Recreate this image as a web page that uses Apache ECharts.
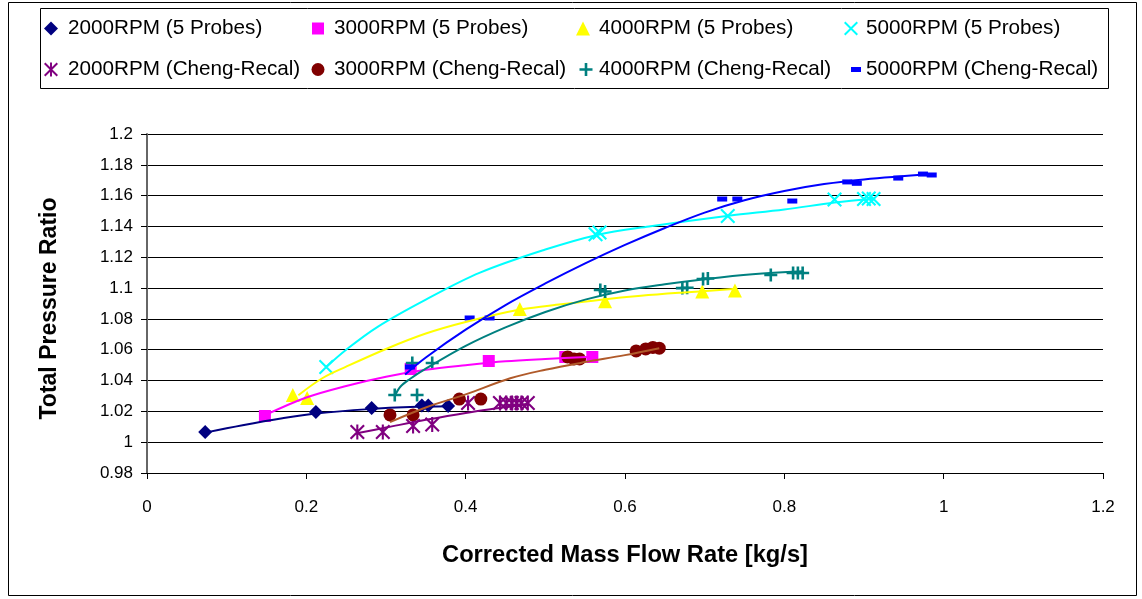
<!DOCTYPE html>
<html>
<head>
<meta charset="utf-8">
<script src="https://cdn.jsdelivr.net/npm/echarts@6/dist/echarts.min.js"></script>
<style>
  html, body { margin: 0; padding: 0; background: #fff; }
  #chart { width: 1142px; height: 599px; }
</style>
</head>
<body>
<div id="chart"></div>
<script>
// Measured points: [corrected mass flow (kg/s), total pressure ratio]
const rpm2000Probe = [[0.073,1.0066],[0.212,1.0196],[0.282,1.0222],[0.345,1.0238],[0.353,1.0238],[0.378,1.0235]];
const rpm3000Probe = [[0.148,1.017],[0.331,1.0475],[0.429,1.0527],[0.525,1.0553],[0.559,1.0553]];
const rpm4000Probe = [[0.183,1.0306],[0.201,1.0287],[0.468,1.0864],[0.575,1.0915],[0.697,1.0978],[0.738,1.0985]];
const rpm5000Probe = [[0.225,1.0488],[0.563,1.135],[0.568,1.136],[0.729,1.1468],[0.863,1.1575],[0.9,1.1578],[0.906,1.1582],[0.912,1.1578]];
const rpm2000Cheng = [[0.264,1.0066],[0.296,1.0066],[0.334,1.0105],[0.358,1.0115],[0.403,1.0254],[0.443,1.0254],[0.451,1.0254],[0.458,1.0254],[0.464,1.0254],[0.47,1.0254],[0.478,1.0254]];
const rpm3000Cheng = [[0.305,1.0177],[0.334,1.0177],[0.392,1.028],[0.419,1.028],[0.528,1.0553],[0.536,1.054],[0.543,1.054],[0.614,1.0592],[0.626,1.0605],[0.635,1.0615],[0.643,1.061]];
const rpm4000Cheng = [[0.311,1.0306],[0.339,1.0306],[0.333,1.0514],[0.358,1.0514],[0.569,1.0988],[0.575,1.0978],[0.672,1.1],[0.678,1.1002],[0.698,1.1059],[0.704,1.1062],[0.783,1.1085],[0.811,1.1098],[0.817,1.1098],[0.823,1.1098]];
const rpm5000Cheng = [[0.33,1.0488],[0.405,1.0806],[0.43,1.0806],[0.722,1.1578],[0.741,1.1578],[0.81,1.1565],[0.879,1.1689],[0.891,1.168],[0.943,1.1714],[0.974,1.174],[0.985,1.1734]];

// Trend curves through each speed line
const fit2000Probe = [[0.073,1.0062],[0.12,1.011],[0.17,1.0155],[0.215,1.0188],[0.28,1.0215],[0.33,1.0228],[0.38,1.0233]];
const fit3000Probe = [[0.148,1.0175],[0.2,1.029],[0.25,1.0365],[0.3,1.0425],[0.35,1.047],[0.4,1.05],[0.45,1.0525],[0.5,1.054],[0.56,1.0555]];
const fit4000Probe = [[0.19,1.0305],[0.22,1.0415],[0.25,1.049],[0.3,1.0605],[0.35,1.0705],[0.4,1.078],[0.47,1.0862],[0.52,1.0895],[0.57,1.0925],[0.62,1.095],[0.67,1.097],[0.74,1.0995]];
const fit5000Probe = [[0.225,1.0488],[0.25,1.06],[0.29,1.075],[0.35,1.0925],[0.418,1.11],[0.5,1.125],[0.565,1.1345],[0.63,1.14],[0.73,1.147],[0.8,1.151],[0.863,1.1555],[0.912,1.158]];
const fit2000Cheng = [[0.265,1.006],[0.3,1.0095],[0.35,1.0145],[0.4,1.019],[0.45,1.0228],[0.478,1.025]];
const fit3000Cheng = [[0.305,1.013],[0.35,1.0225],[0.4,1.031],[0.456,1.0415],[0.5,1.047],[0.55,1.052],[0.6,1.0565],[0.643,1.061]];
const fit4000Cheng = [[0.311,1.03],[0.318,1.036],[0.33,1.041],[0.351,1.048],[0.4,1.0625],[0.45,1.0745],[0.5,1.0845],[0.55,1.0925],[0.6,1.0985],[0.65,1.1025],[0.7,1.1058],[0.76,1.109],[0.823,1.111]];
const fit5000Cheng = [[0.324,1.044],[0.35,1.055],[0.4,1.073],[0.45,1.089],[0.5,1.103],[0.55,1.116],[0.6,1.128],[0.65,1.139],[0.7,1.149],[0.75,1.157],[0.8,1.163],[0.85,1.1675],[0.9,1.1705],[0.985,1.174]];

const seriesNames = [
  '2000RPM (5 Probes)', '3000RPM (5 Probes)', '4000RPM (5 Probes)', '5000RPM (5 Probes)',
  '2000RPM (Cheng-Recal)', '3000RPM (Cheng-Recal)', '4000RPM (Cheng-Recal)', '5000RPM (Cheng-Recal)'
];
const xAxisRange = { min: 0, max: 1.2, step: 0.2 };
const yAxisRange = { min: 0.98, max: 1.2, step: 0.02 };

// Marker outlines (filled shapes in a 10x10 box)
const ICON = {
  diamond: 'path://M5,0L10,5L5,10L0,5Z',
  square: 'path://M0,0L10,0L10,10L0,10Z',
  triangle: 'path://M5,0L10,10L0,10Z',
  cross: 'path://M0,1L1,0L10,9L9,10ZM9,0L10,1L1,10L0,9Z',
  star: 'path://M0,1L1,0L10,9L9,10ZM9,0L10,1L1,10L0,9ZM4.3,0L5.7,0L5.7,10L4.3,10Z',
  circle: 'circle',
  plus: 'path://M4,0L6,0L6,4L10,4L10,6L6,6L6,10L4,10L4,6L0,6L0,4L4,4Z',
  dash: 'path://M0,0L10,0L10,5L0,5Z'
};

const styles = [
  { pts: rpm2000Probe, fit: fit2000Probe, color: '#000080', line: '#000080', symbol: ICON.diamond, size: 14, iconW: 14, iconH: 14 },
  { pts: rpm3000Probe, fit: fit3000Probe, color: '#FF00FF', line: '#FF00FF', symbol: ICON.square, size: 12, iconW: 12, iconH: 12 },
  { pts: rpm4000Probe, fit: fit4000Probe, color: '#FFFF00', line: '#FFFF00', symbol: ICON.triangle, size: 14, iconW: 14, iconH: 14 },
  { pts: rpm5000Probe, fit: fit5000Probe, color: '#00FFFF', line: '#00FFFF', symbol: ICON.cross, size: 15, iconW: 14, iconH: 14 },
  { pts: rpm2000Cheng, fit: fit2000Cheng, color: '#800080', line: '#800080', symbol: ICON.star, size: 15, iconW: 14, iconH: 14 },
  { pts: rpm3000Cheng, fit: fit3000Cheng, color: '#800000', line: '#B05A2A', symbol: ICON.circle, size: 13, iconW: 13, iconH: 13 },
  { pts: rpm4000Cheng, fit: fit4000Cheng, color: '#008080', line: '#008080', symbol: ICON.plus, size: 13, iconW: 13, iconH: 13 },
  { pts: rpm5000Cheng, fit: fit5000Cheng, color: '#0000FF', line: '#0000FF', symbol: ICON.dash, size: [10, 5], iconW: 10, iconH: 5 }
];

// Legend slots: icon centre x, text start x, row centre y
const legendSlots = [
  [51, 68, 27], [318, 334, 27], [583, 599, 27], [851, 866, 27],
  [51, 68, 68], [318, 334, 68], [586, 599, 68], [856, 866, 68]
];

const FONT = 'Liberation Sans, Arial, sans-serif';

const series = [];
styles.forEach((s, i) => {
  series.push({
    type: 'scatter',
    name: seriesNames[i],
    data: s.pts,
    symbol: s.symbol,
    symbolSize: s.size,
    itemStyle: { color: s.color, opacity: 1 },
    z: 2,
    silent: true
  });
});
styles.forEach((s, i) => {
  series.push({
    type: 'line',
    name: 'trend' + i,
    data: s.fit,
    showSymbol: false,
    smooth: 0.35,
    lineStyle: { color: s.line, width: 2 },
    z: 3,
    silent: true
  });
});

// One legend block per entry; the icon box width sets the icon-to-text gap
const legends = styles.map((s, i) => {
  const [ix, tx, cy] = legendSlots[i];
  const gap = tx - ix;
  const boxW = Math.max(s.iconW, 2 * (gap - 5));
  return {
    data: [{ name: seriesNames[i], icon: s.symbol }],
    left: ix - s.iconW / 2,
    top: cy - 9,
    padding: 0,
    itemWidth: boxW,
    itemHeight: s.iconH,
    symbolKeepAspect: true,
    itemStyle: { color: s.color, borderWidth: 0 },
    textStyle: { fontFamily: FONT, fontSize: 20.7, color: '#000' },
    selectedMode: false
  };
});

const chart = echarts.init(document.getElementById('chart'), null, { renderer: 'canvas' });
chart.setOption({
  animation: false,
  backgroundColor: '#fff',
  graphic: [
    { type: 'rect', shape: { x: 8.5, y: 2.5, width: 1128, height: 593 }, style: { fill: 'none', stroke: '#000', lineWidth: 1 }, z: -1 },
    { type: 'rect', shape: { x: 40.5, y: 8.5, width: 1068, height: 80 }, style: { fill: 'none', stroke: '#000', lineWidth: 1 }, z: -1 }
  ],
  legend: legends,
  grid: { left: 147, right: 39, top: 134, bottom: 126, containLabel: false },
  xAxis: {
    type: 'value',
    min: xAxisRange.min, max: xAxisRange.max, interval: xAxisRange.step,
    name: 'Corrected Mass Flow Rate [kg/s]',
    nameLocation: 'middle',
    nameGap: 70,
    nameTextStyle: { fontFamily: FONT, fontSize: 23.7, fontWeight: 'bold', color: '#000' },
    axisLine: { show: true, lineStyle: { color: '#000', width: 1 } },
    axisTick: { show: true, inside: false, length: 6, lineStyle: { color: '#000' } },
    axisLabel: { fontFamily: FONT, fontSize: 17, color: '#000', margin: 26 },
    splitLine: { show: false }
  },
  yAxis: {
    type: 'value',
    min: yAxisRange.min, max: yAxisRange.max, interval: yAxisRange.step,
    name: 'Total Pressure Ratio',
    nameLocation: 'middle',
    nameGap: 86,
    nameRotate: 90,
    nameTextStyle: { fontFamily: FONT, fontSize: 23, fontWeight: 'bold', color: '#000', padding: [0, 10, 0, 0] },
    axisLine: { show: true, lineStyle: { color: '#666', width: 2 } },
    axisTick: { show: true, inside: false, length: 6, lineStyle: { color: '#000' } },
    axisLabel: { fontFamily: FONT, fontSize: 17, color: '#000', margin: 14 },
    splitLine: { show: true, lineStyle: { color: '#000', width: 1 } }
  },
  series: series
});
</script>
</body>
</html>
